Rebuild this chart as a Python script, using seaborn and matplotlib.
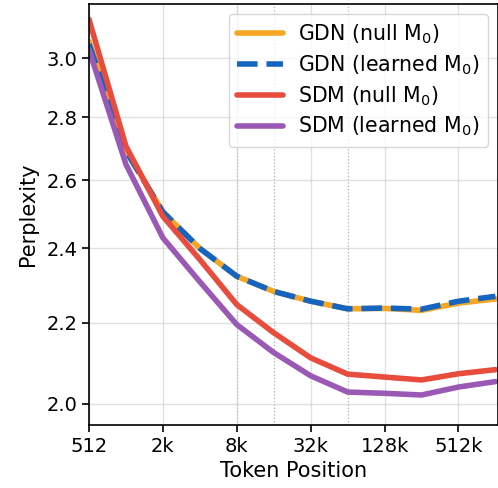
import matplotlib
matplotlib.use("Agg")
import matplotlib.pyplot as plt
import seaborn as sns
import pandas as pd
from matplotlib.ticker import FixedLocator, FixedFormatter, NullLocator

positions = [512, 1024, 2048, 4096, 8192, 16384, 32768, 65536, 131072, 262144, 524288, 1048576]
gdn_null = [3.06, 2.695, 2.505, 2.40, 2.323, 2.282, 2.256, 2.236, 2.237, 2.232, 2.251, 2.262]
gdn_learned = [3.05, 2.69, 2.505, 2.40, 2.323, 2.282, 2.256, 2.236, 2.238, 2.235, 2.256, 2.269]
sdm_null = [3.14, 2.706, 2.492, 2.369, 2.247, 2.174, 2.111, 2.071, 2.064, 2.057, 2.072, 2.082]
sdm_learned = [3.03, 2.649, 2.430, 2.308, 2.195, 2.124, 2.067, 2.028, 2.025, 2.021, 2.040, 2.053]
labels = [r"GDN (null $\mathrm{M}_0$)", r"GDN (learned $\mathrm{M}_0$)",
          r"SDM (null $\mathrm{M}_0$)", r"SDM (learned $\mathrm{M}_0$)"]
colors = ["#F5A623", "#1565C0", "#E74C3C", "#9B59B6"]
styles = ["-", "--", "-", "-"]
xticks = [512, 2048, 8192, 32768, 131072, 524288]
xticklabels = ["512", "2k", "8k", "32k", "128k", "512k"]
yticks = [2.0, 2.2, 2.4, 2.6, 2.8, 3.0]
train_lengths = [8192, 16384, 65536]

sns.set_style("ticks")
plt.rcParams['font.family'] = ['DejaVu Sans']
plt.rcParams.update({"text.color": "black", "axes.labelcolor": "black",
                     "xtick.color": "black", "ytick.color": "black"})

fig = plt.figure(figsize=(4.98, 4.88), dpi=100)
ax = fig.add_axes([0.1787, 0.129, 0.8213, 0.8628])

series = [gdn_null, gdn_learned, sdm_null, sdm_learned]
for vals, lab, col, ls in zip(series, labels, colors, styles):
    df = pd.DataFrame({"pos": positions, "ppl": vals})
    sns.lineplot(data=df, x="pos", y="ppl", ax=ax, color=col, linestyle=ls,
                 linewidth=4, label=lab)

for t in train_lengths:
    ax.axvline(t, color="#999999", linestyle=":", linewidth=0.9, alpha=0.8, zorder=0)

ax.set_xscale("log", base=2)
ax.set_yscale("log")
ax.set_xlim(512, 1100000)
ax.set_ylim(1.951, 3.197)
ax.xaxis.set_major_locator(FixedLocator(xticks))
ax.xaxis.set_major_formatter(FixedFormatter(xticklabels))
ax.xaxis.set_minor_locator(NullLocator())
ax.yaxis.set_major_locator(FixedLocator(yticks))
ax.yaxis.set_major_formatter(FixedFormatter([f"{v:.1f}" for v in yticks]))
ax.yaxis.set_minor_locator(NullLocator())
ax.grid(True, color="#cccccc", alpha=0.6, linewidth=1.0)
ax.tick_params(labelsize=14, length=5, width=1.2, colors="black")
for s in ax.spines.values():
    s.set_linewidth(1.2)
    s.set_color("black")
ax.set_xlabel("Token Position", fontsize=15, color="black")
ax.set_ylabel("Perplexity", fontsize=15, color="black", labelpad=6)

leg = ax.legend(loc="upper right", fontsize=14.8, handlelength=2.26, handletextpad=0.7,
                labelspacing=0.35, frameon=True, fancybox=True, framealpha=0.8,
                borderaxespad=0.5)
for t in leg.get_texts():
    t.set_color("black")

fig.savefig("out.png", dpi=100)
